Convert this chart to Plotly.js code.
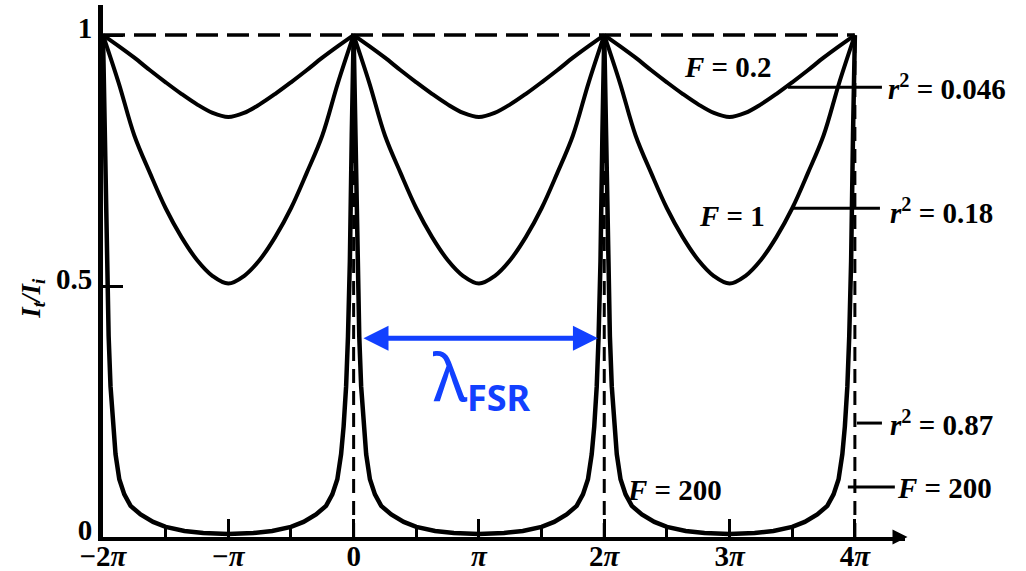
<!DOCTYPE html>
<html>
<head>
<meta charset="utf-8">
<script src="https://cdn.plot.ly/plotly-3.0.1.min.js"></script>
<style>html,body{margin:0;padding:0;background:#fff;}#chart{width:1026px;height:571px;}</style>
</head>
<body>
<div id="chart"></div>
<script>
// phase delta in units of pi
const deltaSmooth = [-2,-1.875,-1.75,-1.625,-1.5,-1.375,-1.25,-1.125,-1,-0.875,-0.75,-0.625,-0.5,-0.375,-0.25,-0.125,
  0,0.125,0.25,0.375,0.5,0.625,0.75,0.875,1,1.125,1.25,1.375,1.5,1.625,1.75,1.875,
  2,2.125,2.25,2.375,2.5,2.625,2.75,2.875,3,3.125,3.25,3.375,3.5,3.625,3.75,3.875,4];
// F = 0.2 (r^2 = 0.046)
const transF02 = [1.0,0.978,0.955,0.93,0.906,0.883,0.862,0.845,0.837,0.845,0.862,0.883,0.906,0.93,0.955,0.978,
  1.0,0.978,0.955,0.93,0.906,0.883,0.862,0.845,0.837,0.845,0.862,0.883,0.906,0.93,0.955,0.978,
  1.0,0.978,0.955,0.93,0.906,0.883,0.862,0.845,0.837,0.845,0.862,0.883,0.906,0.93,0.955,0.978,1.0];
// F = 1 (r^2 = 0.18)
const transF1 = [1.0,0.905,0.8,0.725,0.655,0.598,0.552,0.52,0.505,0.52,0.552,0.598,0.655,0.725,0.8,0.905,
  1.0,0.905,0.8,0.725,0.655,0.598,0.552,0.52,0.505,0.52,0.552,0.598,0.655,0.725,0.8,0.905,
  1.0,0.905,0.8,0.725,0.655,0.598,0.552,0.52,0.505,0.52,0.552,0.598,0.655,0.725,0.8,0.905,1.0];
// F = 200 (r^2 = 0.87)
const deltaSharp = [-2,-1.985,-1.97,-1.955,-1.94,-1.92,-1.9,-1.87,-1.83,-1.78,-1.7,-1.6,-1.5,-1.35,-1.2,-1.0,
  -0.8,-0.65,-0.5,-0.4,-0.3,-0.22,-0.17,-0.13,-0.1,-0.08,-0.06,-0.045,-0.03,-0.015,0,
  0.015,0.03,0.045,0.06,0.08,0.1,0.13,0.17,0.22,0.3,0.4,0.5,0.65,0.8,1.0,
  1.2,1.35,1.5,1.6,1.7,1.78,1.83,1.87,1.9,1.92,1.94,1.955,1.97,1.985,2,
  2.015,2.03,2.045,2.06,2.08,2.1,2.13,2.17,2.22,2.3,2.4,2.5,2.65,2.8,3.0,
  3.2,3.35,3.5,3.6,3.7,3.78,3.83,3.87,3.9,3.92,3.94,3.955,3.97,3.985,4];
const transF200 = [1,0.8,0.55,0.4,0.3,0.22,0.165,0.115,0.085,0.062,0.045,0.03,0.02,0.012,0.008,0.006,
  0.008,0.012,0.02,0.03,0.045,0.062,0.085,0.115,0.165,0.22,0.3,0.4,0.55,0.8,1,
  0.8,0.55,0.4,0.3,0.22,0.165,0.115,0.085,0.062,0.045,0.03,0.02,0.012,0.008,0.006,
  0.008,0.012,0.02,0.03,0.045,0.062,0.085,0.115,0.165,0.22,0.3,0.4,0.55,0.8,1,
  0.8,0.55,0.4,0.3,0.22,0.165,0.115,0.085,0.062,0.045,0.03,0.02,0.012,0.008,0.006,
  0.008,0.012,0.02,0.03,0.045,0.062,0.085,0.115,0.165,0.22,0.3,0.4,0.55,0.8,1];

const xTickVals = [-2,-1,0,1,2,3,4];
const xTickText = ['\u22122\u03c0','\u2212\u03c0','0','\u03c0','2\u03c0','3\u03c0','4\u03c0'];
const xMinorTicks = [-1.5,-0.5,0.5,1.5,2.5,3.5];
const yTickVals = [0,0.5,1];
const yTickText = ['0','0.5','1'];
const resonances = [0,2,4];
const maxLevel = 1;

const serif = 'Liberation Serif, Times New Roman, serif';
const blue = '#1240ff';

// split the smooth curves at the resonance peaks so every peak stays a sharp cusp
function periods(xs, ys) {
  const out = [];
  let start = 0;
  for (let i = 1; i < xs.length; i++) {
    if (ys[i] === maxLevel) { out.push([xs.slice(start, i + 1), ys.slice(start, i + 1)]); start = i; }
  }
  return out;
}
const traces = [];
[transF02, transF1].forEach(ys => periods(deltaSmooth, ys).forEach(p =>
  traces.push({x: p[0], y: p[1], mode: 'lines', line: {color: '#000', width: 4, shape: 'spline', smoothing: 1}, hoverinfo: 'skip'})));
traces.push({x: deltaSharp, y: transF200, mode: 'lines', line: {color: '#000', width: 4.5}, hoverinfo: 'skip'});

const shapes = [
  {type: 'line', xref: 'x', yref: 'y', x0: -2, x1: 4, y0: maxLevel, y1: maxLevel, line: {color: '#000', width: 3.5, dash: '22px,9px'}, layer: 'below'}
];
resonances.forEach(r => shapes.push({type: 'line', xref: 'x', yref: 'y', x0: r, x1: r, y0: 0, y1: maxLevel, line: {color: '#000', width: 3, dash: '14px,8px'}, layer: 'below'}));
// leader lines
[[3.466,4.216,0.896],[3.497,4.2,0.655],[4.016,4.216,0.227],[3.944,4.319,0.0996]].forEach(l =>
  shapes.push({type: 'line', xref: 'x', yref: 'y', x0: l[0], x1: l[1], y0: l[2], y1: l[2], line: {color: '#000', width: 3}}));

const lab = (text, x, y, xanchor, size) => ({text: '<b>' + text + '</b>', x: x, y: y, xref: 'x', yref: 'y', xanchor: xanchor || 'center', yanchor: 'middle', showarrow: false, font: {family: serif, size: size || 29, color: '#000'}});

const annotations = [
  lab('<i>F</i> = 0.2', 2.987, 0.936),
  lab('<i>F</i> = 1', 3.019, 0.639),
  lab('<i>F</i> = 200', 2.564, 0.094),
  lab('<i>r</i><sup>2</sup> = 0.046', 4.248, 0.896, 'left'),
  lab('<i>r</i><sup>2</sup> = 0.18', 4.263, 0.649, 'left'),
  lab('<i>r</i><sup>2</sup> = 0.87', 4.263, 0.227, 'left'),
  lab('<i>F</i> = 200', 4.319, 0.0976, 'left'),
  lab('<i>\u03b4</i>', 4.383, -0.032, 'center'),
  {text: '<b><i>I<sub>t</sub>/I<sub>i</sub></i></b>', xref: 'paper', yref: 'y', x: -0.112, y: 0.475, textangle: -90, showarrow: false, font: {family: serif, size: 27, color: '#000'}},
  // x-axis arrow head
  {text: '', x: 4.42, y: 0, ax: 4.3, ay: 0, xref: 'x', yref: 'y', axref: 'x', ayref: 'y', showarrow: true, arrowhead: 2, arrowsize: 1.2, arrowwidth: 2.5, arrowcolor: '#000', standoff: 0},
  // free spectral range arrow
  {text: '', x: 1.9496, y: 0.396, ax: 0.0666, ay: 0.396, xref: 'x', yref: 'y', axref: 'x', ayref: 'y', showarrow: true, arrowside: 'end+start', arrowhead: 2, startarrowhead: 2, arrowsize: 1, startarrowsize: 1, arrowwidth: 5, arrowcolor: blue, standoff: 0, startstandoff: 0},
  {text: '\u03bb', x: 0.772, y: 0.322, xref: 'x', yref: 'y', showarrow: false, font: {family: 'Noto Sans, sans-serif', size: 66, color: blue}},
  {text: '<b>FSR</b>', x: 1.16, y: 0.277, xref: 'x', yref: 'y', showarrow: false, font: {family: 'Noto Sans, sans-serif', size: 36, color: blue}}
];

const layout = {
  width: 1026, height: 571,
  margin: {l: 103, r: 121, t: 5, b: 34, pad: 0},
  paper_bgcolor: '#fff', plot_bgcolor: '#fff',
  showlegend: false,
  xaxis: {range: [-2, 4.4], showgrid: false, zeroline: false, showline: true, linecolor: '#000', linewidth: 4,
    ticks: 'inside', ticklen: 18, tickwidth: 3, tickcolor: '#000', ticklabelstandoff: -10,
    tickvals: xTickVals, ticktext: xTickText.map(t => '<b>' + t.replace('\u03c0', '<i>\u03c0</i>') + '</b>'),
    tickfont: {family: serif, size: 29, color: '#000'},
    minor: {tickvals: xMinorTicks, ticks: 'inside', ticklen: 11, tickwidth: 3, tickcolor: '#000'},
    fixedrange: true},
  yaxis: {range: [0, 1.06], showgrid: false, zeroline: false, showline: true, linecolor: '#000', linewidth: 5,
    ticks: 'inside', ticklen: 20, tickwidth: 3, tickcolor: '#000', ticklabelshift: -7,
    tickvals: yTickVals, ticktext: yTickText.map(t => '<b>' + t + '</b>'),
    tickfont: {family: serif, size: 29, color: '#000'}, fixedrange: true},
  shapes: shapes,
  annotations: annotations
};

Plotly.newPlot('chart', traces, layout, {staticPlot: true, displayModeBar: false});
</script>
</body>
</html>
